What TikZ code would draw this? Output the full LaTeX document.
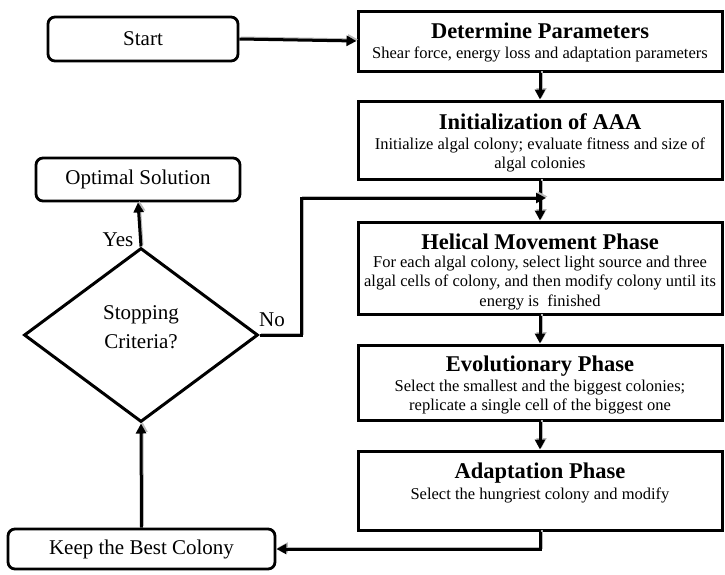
\documentclass[tikz,border=0pt]{standalone}
\usepackage{fontspec}
\setmainfont{Liberation Serif}
\usetikzlibrary{shapes.geometric,arrows.meta}
\begin{document}
\begin{tikzpicture}[x=1pt,y=-1pt,
  box/.style={draw,line width=3pt,minimum width=364pt},
  rbox/.style={draw,line width=2.8pt,rounded corners=7pt,align=center,font=\fontsize{21}{24}\selectfont},
  ttl/.style={font=\fontsize{22.5}{26}\selectfont\bfseries,inner sep=0pt},
  sub/.style={align=center,font=\fontsize{16.5}{19.5}\selectfont,inner sep=0pt},
  arr/.style={line width=3pt,-{Triangle[length=10pt,width=10pt]},
    preaction={draw=gray!55,line width=2pt,transform canvas={shift={(1.5pt,1.5pt)}}}},
  lab/.style={font=\fontsize{21}{24}\selectfont}]
\useasboundingbox (0,0) rectangle (725,574);
\node[rbox,minimum width=190pt,minimum height=44pt] (start) at (143,39) {Start};
\node[box,minimum height=60pt] (dp) at (540,41) {};
\node[ttl] (dpT) at (540,31) {Determine Parameters};
\node[sub] (dpS) at (540,54) {Shear force, energy loss and adaptation parameters};
\node[box,minimum height=78pt] (init) at (540,140) {};
\node[ttl] (initT) at (540,122) {Initialization of AAA};
\node[sub] (initS) at (540,155) {Initialize algal colony; evaluate fitness and size of\\algal colonies};
\node[box,minimum height=92pt] (hel) at (540,268) {};
\node[ttl] (helT) at (540,242) {Helical Movement Phase};
\node[sub] (helS) at (540,283) {For each algal colony, select light source and three\\algal cells of colony, and then modify colony until its\\energy is\ \ finished};
\node[box,minimum height=75pt] (evo) at (540,382.5) {};
\node[ttl] (evoT) at (540,366) {Evolutionary Phase};
\node[sub] (evoS) at (540,397) {Select the smallest and the biggest colonies;\\replicate a single cell of the biggest one};
\node[box,minimum height=79pt] (ada) at (540,490.5) {};
\node[ttl] (adaT) at (540,473) {Adaptation Phase};
\node[sub] (adaS) at (540,495) {Select the hungriest colony and modify};
\node[rbox,minimum width=267pt,minimum height=40pt] (keep) at (141.5,549) {Keep the Best Colony};
\node[rbox,minimum width=204pt,minimum height=43pt] (opt) at (138,179.5) {Optimal Solution};
\node[draw,diamond,line width=3pt,minimum width=234pt,minimum height=174pt,inner sep=0pt] (dia) at (141,335) {};
\node[align=center,font=\fontsize{21}{29}\selectfont] (diaT) at (141,327) {Stopping\\Criteria?};
\coordinate (m) at (546,198);
\draw[arr] (start.east) -- (dp.west);
\draw[arr] (dp.south) -- (init.north);
\draw[arr] (init.south) -- (hel.north);
\draw[arr] (hel.south) -- (evo.north);
\draw[arr] (evo.south) -- (ada.north);
\draw[arr] (ada.south) |- (keep.east);
\draw[arr] (keep.north) -- (dia.south);
\draw[arr] (dia.north) -- (opt.south);
\draw[arr] (dia.east) -- ++(42,0) |- (m);
\node[lab] (yes) at (118,240) {Yes};
\node[lab] (no) at (272,320) {No};
\end{tikzpicture}
\end{document}
